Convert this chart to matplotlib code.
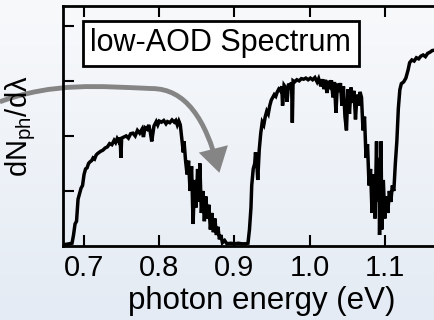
import numpy as np
import matplotlib
matplotlib.use("Agg")
import matplotlib.pyplot as plt
from matplotlib.patches import FancyArrowPatch
from matplotlib.path import Path

plt.rcParams['font.family'] = ['Liberation Sans', 'DejaVu Sans']
plt.rcParams['mathtext.default'] = 'regular'

# спектр (энергия фотона, эВ -> dN/dλ, отн. ед.)
energy = [
    0.672, 0.676, 0.680, 0.684, 0.686, 0.688, 0.690, 0.692, 0.694, 0.696, 0.698, 0.700,
    0.702, 0.704, 0.706, 0.708, 0.710, 0.712, 0.714, 0.716, 0.718, 0.720, 0.722, 0.725,
    0.728, 0.731, 0.734, 0.737, 0.740, 0.742, 0.744, 0.746, 0.748, 0.749, 0.750, 0.753,
    0.756, 0.759, 0.762, 0.765, 0.768, 0.771, 0.774, 0.777, 0.779, 0.781, 0.784, 0.786,
    0.788, 0.790, 0.793, 0.796, 0.798, 0.800, 0.803, 0.806, 0.809, 0.811, 0.814, 0.817,
    0.820, 0.822, 0.824, 0.826, 0.828,
    0.830, 0.832, 0.833, 0.835, 0.837, 0.839, 0.841, 0.843, 0.845, 0.847, 0.849, 0.851,
    0.853, 0.854, 0.856, 0.858, 0.860, 0.862, 0.864, 0.866, 0.868, 0.870, 0.872, 0.874,
    0.876, 0.878, 0.880, 0.882, 0.884, 0.887, 0.890, 0.895, 0.900, 0.905, 0.910, 0.915,
    0.918,
    0.920, 0.922, 0.923, 0.925, 0.927, 0.928, 0.930, 0.931, 0.933, 0.935, 0.937, 0.939,
    0.941, 0.943, 0.945, 0.947, 0.949, 0.951, 0.953, 0.955, 0.957, 0.959, 0.961, 0.963,
    0.964, 0.966, 0.968, 0.970, 0.972, 0.974, 0.976, 0.977, 0.978, 0.980, 0.983, 0.986,
    0.989, 0.992, 0.995, 0.998,
    1.001, 1.004, 1.007, 1.010, 1.012, 1.015, 1.017, 1.019, 1.021, 1.023, 1.025, 1.027,
    1.029, 1.031, 1.033, 1.035, 1.037, 1.039, 1.041, 1.043, 1.045, 1.047, 1.049, 1.051,
    1.053, 1.055, 1.057, 1.059, 1.061, 1.063, 1.065, 1.067, 1.069,
    1.071, 1.073, 1.075, 1.077, 1.079, 1.081, 1.083, 1.085, 1.087, 1.089, 1.090, 1.092,
    1.093, 1.095, 1.096, 1.098, 1.100, 1.102, 1.104, 1.106, 1.108, 1.110, 1.112, 1.114,
    1.116, 1.118, 1.120, 1.122, 1.125, 1.128, 1.131, 1.133, 1.136, 1.139, 1.142, 1.145,
    1.148, 1.151, 1.154, 1.157, 1.160, 1.163, 1.167,
]
flux = [
    0.03, 0.03, 0.04, 0.05, 0.20, 0.40, 0.45, 0.85, 0.95, 1.05, 1.10, 1.30,
    1.40, 1.42, 1.50, 1.53, 1.55, 1.60, 1.58, 1.65, 1.68, 1.70, 1.72, 1.74,
    1.78, 1.80, 1.86, 1.84, 1.92, 1.88, 1.95, 1.90, 1.97, 1.60, 1.96, 1.98,
    2.00, 1.96, 2.04, 2.05, 2.00, 2.10, 2.05, 2.12, 1.98, 2.15, 2.12, 2.20,
    2.08, 1.90, 2.18, 2.26, 2.20, 2.27, 2.25, 2.28, 2.22, 2.26, 2.24, 2.29,
    2.25, 2.28, 2.20, 2.27, 2.20,
    1.95, 1.70, 1.90, 1.55, 1.30, 1.55, 1.00, 1.45, 0.40, 1.20, 0.70, 1.40,
    0.80, 1.50, 0.60, 1.00, 0.45, 0.90, 0.50, 0.75, 0.30, 0.60, 0.25, 0.50,
    0.20, 0.35, 0.12, 0.20, 0.06, 0.10, 0.04, 0.05, 0.04, 0.05, 0.04, 0.04,
    0.05,
    0.30, 0.70, 1.10, 1.40, 1.50, 1.70, 1.45, 1.20, 1.75, 2.05, 2.25, 2.20,
    2.35, 2.45, 2.40, 2.55, 2.65, 2.70, 2.75, 2.72, 2.80, 2.85, 2.82, 2.90,
    2.55, 2.92, 2.88, 2.62, 2.95, 2.90, 2.97, 2.24, 3.00, 2.98, 3.02, 3.00,
    3.04, 3.03, 3.05, 3.02,
    3.05, 3.02, 3.06, 2.98, 3.04, 2.90, 3.03, 2.85, 3.02, 2.78, 3.00, 2.92,
    3.01, 2.70, 2.98, 2.42, 2.95, 2.80, 2.96, 2.55, 2.90, 2.35, 2.10, 2.85,
    2.40, 2.88, 2.60, 2.82, 2.30, 2.75, 2.55, 2.80, 2.70,
    2.10, 2.35, 1.60, 1.85, 1.10, 1.40, 0.60, 1.30, 0.50, 1.90, 0.80, 1.60,
    0.20, 1.90, 0.30, 1.20, 0.50, 0.90, 0.60, 1.00, 0.80, 1.10, 1.00, 1.50,
    1.90, 2.50, 2.84, 2.95, 2.98, 3.05, 3.20, 3.33, 3.38, 3.36, 3.42, 3.40,
    3.45, 3.47, 3.44, 3.50, 3.52, 3.55, 3.56,
]

# серая стрелка-указатель: опорные точки кривой Безье (координаты данных)
arrow_x = [0.588, 0.660, 0.720, 0.790, 0.835, 0.862, 0.880]
arrow_y = [2.62, 2.98, 2.90, 2.86, 2.86, 2.30, 1.33]

xticks = [0.7, 0.8, 0.9, 1.0, 1.1]
xticklabels = ['0.7', '0.8', '0.9', '1.0', '1.1']

fig = plt.figure(figsize=(4.35, 3.2), dpi=100)

# фон с лёгким градиентом
bg = fig.add_axes([0, 0, 1, 1], zorder=-10)
grad = np.linspace(0, 1, 256).reshape(-1, 1)
bg.imshow(grad, aspect='auto', extent=[0, 1, 0, 1], origin='upper',
          cmap=matplotlib.colors.LinearSegmentedColormap.from_list('bg', ['#f8f9fb', '#e4ebf4']))
bg.axis('off')

ax = fig.add_axes([63 / 435, 74 / 320, 397 / 435, 240 / 320])
ax.patch.set_alpha(0)
ax.plot(energy, flux, color='black', lw=2.5, solid_joinstyle='miter')

ax.set_xlim(0.672, 1.2)
ax.set_ylim(0, 4.36)
ax.set_xticks(xticks)
ax.set_xticklabels(xticklabels, fontsize=21)
ax.set_yticks([1, 2, 3, 4])
ax.set_yticklabels([])
ax.tick_params(direction='in', length=8, width=1.5, top=True, right=False, pad=6)
for s in ['left', 'bottom', 'top']:
    ax.spines[s].set_linewidth(2)
ax.spines['right'].set_visible(False)

ax.set_xlabel('photon energy (eV)', fontsize=22.5, labelpad=3)
ax.set_ylabel('dN$_{ph}$/dλ', fontsize=21, labelpad=12)

ax.text(0.882, 3.68, 'low-AOD Spectrum', fontsize=22, ha='center', va='center',
        bbox=dict(boxstyle='square,pad=0.25', fc='white', ec='black', lw=2))

verts = list(zip(arrow_x, arrow_y))
codes = [Path.MOVETO] + [Path.CURVE4] * 6
arrow = FancyArrowPatch(path=Path(verts, codes),
                        arrowstyle='-|>,head_length=0.9,head_width=0.55',
                        mutation_scale=14, lw=3.5, color='#858585', transform=ax.transData,
                        clip_on=False, joinstyle='miter', capstyle='butt')
ax.add_patch(arrow)

fig.savefig('out.png', dpi=100)
